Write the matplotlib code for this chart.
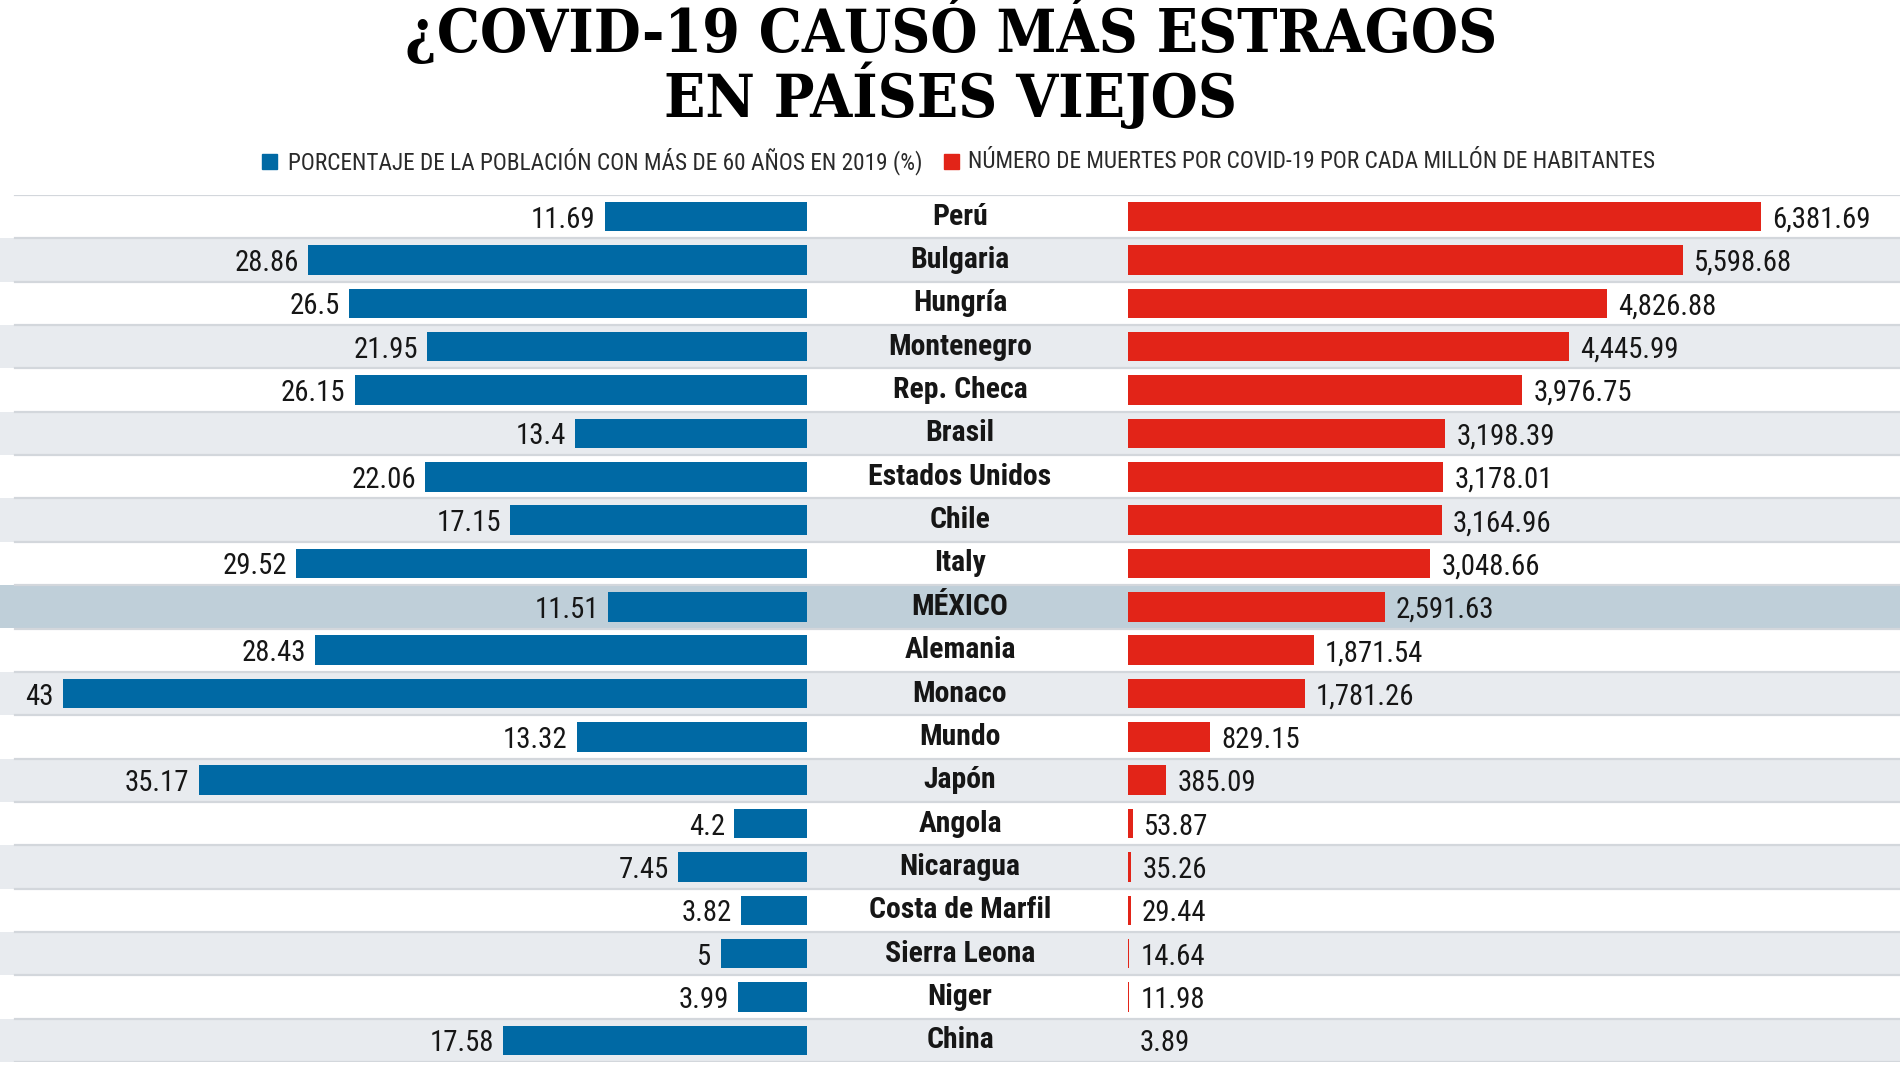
import matplotlib
matplotlib.use('Agg')
import matplotlib.pyplot as plt
import matplotlib.transforms as mtransforms

# ---------------- data ----------------
countries = ['Perú', 'Bulgaria', 'Hungría', 'Montenegro', 'Rep. Checa', 'Brasil',
             'Estados Unidos', 'Chile', 'Italy', 'MÉXICO', 'Alemania', 'Monaco',
             'Mundo', 'Japón', 'Angola', 'Nicaragua', 'Costa de Marfil',
             'Sierra Leona', 'Niger', 'China']
pct_over60 = [11.69, 28.86, 26.5, 21.95, 26.15, 13.4, 22.06, 17.15, 29.52, 11.51,
              28.43, 43, 13.32, 35.17, 4.2, 7.45, 3.82, 5, 3.99, 17.58]
deaths_per_million = [6381.69, 5598.68, 4826.88, 4445.99, 3976.75, 3198.39, 3178.01,
                      3164.96, 3048.66, 2591.63, 1871.54, 1781.26, 829.15, 385.09,
                      53.87, 35.26, 29.44, 14.64, 11.98, 3.89]
highlight = 'MÉXICO'
title_lines = ['¿COVID-19 CAUSÓ MÁS ESTRAGOS', 'EN PAÍSES VIEJOS']
legend_labels = ['PORCENTAJE DE LA POBLACIÓN CON MÁS DE 60 AÑOS EN 2019 (%)',
                 'NÚMERO DE MUERTES POR COVID-19 POR CADA MILLÓN DE HABITANTES']

# ---------------- style ----------------
BLUE = '#0069a4'
RED = '#e22418'
BAND = '#e8ebef'
HILITE = '#bfcfd9'
SEP = '#d3d7dc'
TXT = '#161616'
SANS = ['Roboto Condensed', 'DejaVu Sans']
SERIF = ['DejaVu Serif', 'Liberation Serif']
STRETCH = 'condensed'

W, H, DPI = 1900, 1068, 100
fig = plt.figure(figsize=(W / DPI, H / DPI), dpi=DPI)
fig.patch.set_facecolor('white')
renderer = fig.canvas.get_renderer()


def fx(px):
    return px / W


def fy(py):
    return 1 - py / H


def fitted_size(sample, target_px, **kw):
    probe = fig.text(0, 0, sample, fontsize=20, **kw)
    w = probe.get_window_extent(renderer).width
    probe.remove()
    return 20 * target_px / w


row_top, row_bot = 195, 1062
n = len(countries)
ax_rect_y = fy(row_bot)
ax_rect_h = (row_bot - row_top) / H

# font sizes fitted to the reference's text widths
val_kw = dict(family=SANS, fontstretch=STRETCH)
name_kw = dict(family=SANS, fontstretch=STRETCH, fontweight='bold')
val_fs = min(fitted_size('6,381.69', 98, **val_kw), 26)
name_fs = min(fitted_size('Estados Unidos', 183, **name_kw), 26)

# background bands
ax_bg = fig.add_axes([0, ax_rect_y, 1, ax_rect_h])
ax_bg.set_xlim(0, 1)
ax_bg.set_ylim(n - 0.5, -0.5)
ax_bg.axis('off')
for i, c in enumerate(countries):
    if c == highlight:
        ax_bg.axhspan(i - 0.5, i + 0.5, color=HILITE, lw=0, zorder=0)
    elif i % 2 == 1:
        ax_bg.axhspan(i - 0.5, i + 0.5, color=BAND, lw=0, zorder=0)
for i in range(n + 1):
    ax_bg.axhline(i - 0.5, xmin=0.008, xmax=1, color=SEP, lw=1.6, zorder=1)

# left (blue) axes
blue_zero_px = 807
px_per_pct = 17.3
axL = fig.add_axes([0, ax_rect_y, fx(blue_zero_px), ax_rect_h])
axL.set_xlim(blue_zero_px / px_per_pct, 0)
axL.set_ylim(n - 0.5, -0.5)
axL.axis('off')
axL.patch.set_alpha(0)
ypos = list(range(n))
axL.barh(ypos, pct_over60, height=0.68, color=BLUE, zorder=2)
offL = mtransforms.ScaledTranslation(-9 / DPI, -3 / DPI, fig.dpi_scale_trans)
for i, v in enumerate(pct_over60):
    axL.text(v, i, f'{v:g}', ha='right', va='center', fontsize=val_fs,
             color=TXT, transform=axL.transData + offL, **val_kw)

# right (red) axes
red_zero_px = 1128
px_per_death = 633 / 6381.69
axR = fig.add_axes([fx(red_zero_px), ax_rect_y, 1 - fx(red_zero_px), ax_rect_h])
axR.set_xlim(0, (W - red_zero_px) / px_per_death)
axR.set_ylim(n - 0.5, -0.5)
axR.axis('off')
axR.patch.set_alpha(0)
axR.barh(ypos, deaths_per_million, height=0.68, color=RED, zorder=2)
offR = mtransforms.ScaledTranslation(11 / DPI, -3 / DPI, fig.dpi_scale_trans)
for i, v in enumerate(deaths_per_million):
    axR.text(v, i, f'{v:,.2f}', ha='left', va='center', fontsize=val_fs,
             color=TXT, transform=axR.transData + offR, **val_kw)

# country names
for i, c in enumerate(countries):
    ax_bg.text(fx(960), i, c, ha='center', va='center', fontsize=name_fs,
               color=TXT, zorder=3, **name_kw)

# title
title_kw = dict(family=SERIF, fontweight='bold', fontstretch='condensed', color='black')
title_fs = fitted_size(title_lines[0], 1091, **title_kw)
fig.text(fx(951), fy(52), title_lines[0], ha='center', va='baseline',
         fontsize=title_fs, **title_kw)
fig.text(fx(951), fy(117), title_lines[1], ha='center', va='baseline',
         fontsize=title_fs, **title_kw)

# legend
leg_kw = dict(family=SANS, fontstretch=STRETCH, color='#2a2a2a')
leg_fs = min(fitted_size(legend_labels[0], 632, **leg_kw),
             fitted_size(legend_labels[1], 694, **leg_kw))
fig.patches.append(plt.Rectangle((fx(262), fy(169)), fx(15), 15 / H, color=BLUE,
                                 transform=fig.transFigure, figure=fig))
fig.text(fx(288), fy(161), legend_labels[0], ha='left', va='center',
         fontsize=leg_fs, **leg_kw)
fig.patches.append(plt.Rectangle((fx(944), fy(169)), fx(15), 15 / H, color=RED,
                                 transform=fig.transFigure, figure=fig))
fig.text(fx(968), fy(161), legend_labels[1], ha='left', va='center',
         fontsize=leg_fs, **leg_kw)

fig.savefig('out.png', dpi=DPI, facecolor='white')
